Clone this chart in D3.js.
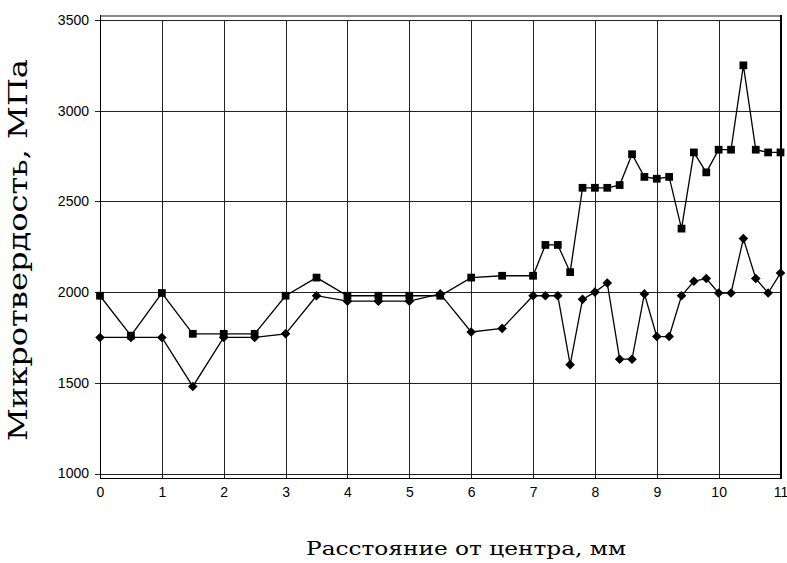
<!DOCTYPE html>
<html>
<head>
<meta charset="utf-8">
<script src="https://cdn.jsdelivr.net/npm/d3@7"></script>
<style>
  body { margin: 0; background: #fff; }
  svg { display: block; }
</style>
</head>
<body>
<div id="chart"></div>
<script>
const distance = [0, 0.5, 1, 1.5, 2, 2.5, 3, 3.5, 4, 4.5, 5, 5.5, 6, 6.5, 7, 7.2, 7.4, 7.6, 7.8,
  8, 8.2, 8.4, 8.6, 8.8, 9, 9.2, 9.4, 9.6, 9.8, 10, 10.2, 10.4, 10.6, 10.8, 11];
const surface = [1980, 1760, 1995, 1770, 1770, 1770, 1980, 2080, 1980, 1980, 1980, 1980, 2080, 2090,
  2090, 2260, 2260, 2110, 2575, 2575, 2575, 2590, 2760, 2635, 2625, 2635, 2350, 2770, 2660,
  2785, 2785, 3250, 2785, 2770, 2770];
const core = [1750, 1750, 1750, 1480, 1750, 1750, 1770, 1980, 1950, 1950, 1950, 1990, 1780, 1800,
  1980, 1980, 1980, 1600, 1960, 2000, 2050, 1630, 1630, 1990, 1755, 1755, 1980, 2060, 2075,
  1995, 1995, 2295, 2075, 1995, 2105];
const xTicks = [0, 1, 2, 3, 4, 5, 6, 7, 8, 9, 10, 11];
const yTicks = [1000, 1500, 2000, 2500, 3000, 3500];
const xTitle = "Расстояние от центра, мм";
const yTitle = "Микротвердость, МПа";

(function () {
  const W = 787, H = 563;
  const svg = d3.select("#chart").append("svg")
    .attr("width", W)
    .attr("height", H);

  const x = d3.scaleLinear().domain([0, 11]).range([100, 780.5]);
  const y = d3.scaleLinear().domain([1000, 3500]).range([473.5, 20]);
  const frameTop = 15, frameBottom = 478.5;

  // grid
  const grid = svg.append("g").attr("stroke", "#222").attr("stroke-width", 1);
  grid.selectAll(".h").data(yTicks).join("line")
    .attr("x1", 95).attr("x2", x(11))
    .attr("y1", d => Math.round(y(d)) + 0.5).attr("y2", d => Math.round(y(d)) + 0.5);
  grid.selectAll(".v").data(xTicks.slice(1, -1)).join("line")
    .attr("x1", d => Math.round(x(d)) + 0.5).attr("x2", d => Math.round(x(d)) + 0.5)
    .attr("y1", Math.round(y(3500))).attr("y2", frameBottom);

  // frame
  svg.append("line").attr("x1", 100).attr("x2", 781).attr("y1", 16).attr("y2", 16)
    .attr("stroke", "#8a8a8a").attr("stroke-width", 2);
  svg.append("line").attr("x1", 100.5).attr("x2", 100.5).attr("y1", frameTop).attr("y2", frameBottom)
    .attr("stroke", "#000").attr("stroke-width", 1);
  svg.append("line").attr("x1", 100).attr("x2", 781).attr("y1", frameBottom).attr("y2", frameBottom)
    .attr("stroke", "#000").attr("stroke-width", 1);
  svg.append("line").attr("x1", 781).attr("x2", 781).attr("y1", frameTop).attr("y2", frameBottom + 0.5)
    .attr("stroke", "#000").attr("stroke-width", 2);

  // axes (labels only, lines drawn above)
  const yAxis = svg.append("g")
    .attr("transform", "translate(95,0)")
    .call(d3.axisLeft(y).tickValues(yTicks).tickSize(0).tickPadding(6).tickFormat(d3.format("d")));
  const xAxis = svg.append("g")
    .attr("transform", "translate(0," + frameBottom + ")")
    .call(d3.axisBottom(x).tickValues(xTicks).tickSize(0).tickPadding(9).tickFormat(d3.format("d")));
  [xAxis, yAxis].forEach(a => {
    a.select(".domain").remove();
    a.selectAll("text")
      .attr("fill", "#000")
      .style("font-family", "'Liberation Sans', Arial, sans-serif")
      .style("font-size", "14px");
  });

  // series
  const line = d3.line().x(d => x(d[0])).y(d => y(d[1]));
  const sq = d3.zip(distance, surface);
  const dm = d3.zip(distance, core);

  [sq, dm].forEach(pts => {
    svg.append("path")
      .attr("d", line(pts))
      .attr("fill", "none")
      .attr("stroke", "#000")
      .attr("stroke-width", 1.3);
  });

  svg.append("g").selectAll("path").data(sq).join("path")
    .attr("d", d3.symbol(d3.symbolSquare, 60))
    .attr("transform", d => "translate(" + x(d[0]) + "," + y(d[1]) + ")")
    .attr("fill", "#000");
  svg.append("g").selectAll("path").data(dm).join("path")
    .attr("d", "M0,-4.8L4.8,0L0,4.8L-4.8,0Z")
    .attr("transform", d => "translate(" + x(d[0]) + "," + y(d[1]) + ")")
    .attr("fill", "#000");

  // titles
  const serif = "'DejaVu Serif', 'Liberation Serif', serif";
  svg.append("text")
    .attr("x", 466).attr("y", 555)
    .attr("text-anchor", "middle")
    .attr("textLength", 320)
    .attr("lengthAdjust", "spacingAndGlyphs")
    .style("font-family", serif)
    .style("font-size", "18px")
    .text(xTitle);
  svg.append("text")
    .attr("transform", "translate(27,250) rotate(-90)")
    .attr("text-anchor", "middle")
    .attr("textLength", 382)
    .attr("lengthAdjust", "spacingAndGlyphs")
    .style("font-family", serif)
    .style("font-size", "26px")
    .text(yTitle);
})();
</script>
</body>
</html>
